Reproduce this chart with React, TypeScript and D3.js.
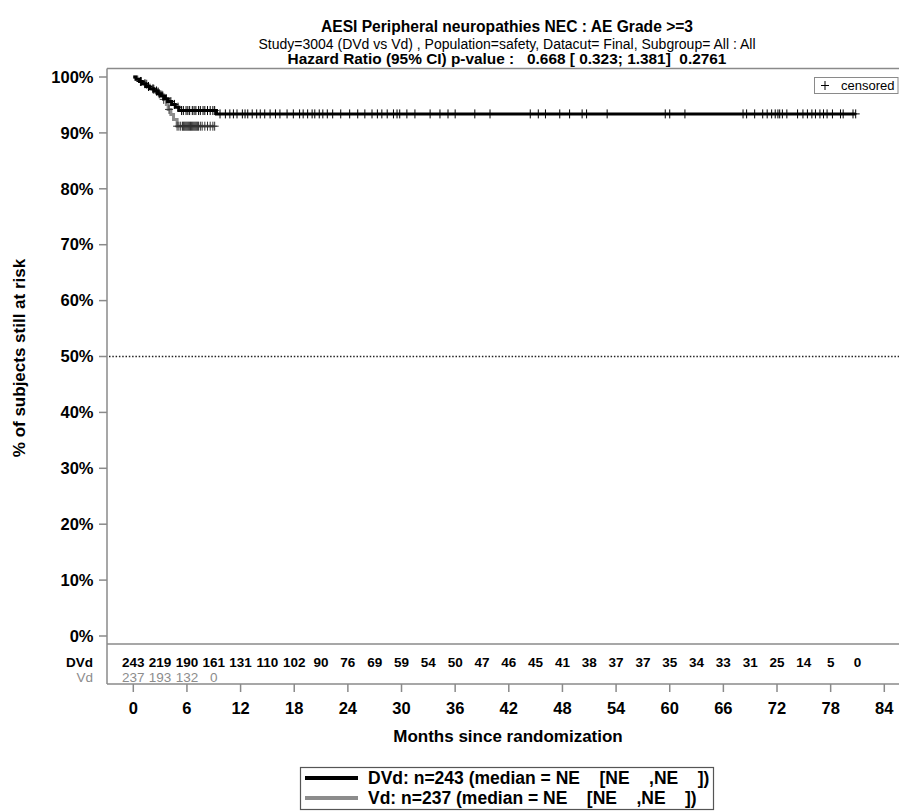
import React from "react";
import * as d3 from "d3";

const W = 899;
const H = 812;

// Axis ticks
const monthTicks = [0, 6, 12, 18, 24, 30, 36, 42, 48, 54, 60, 66, 72, 78, 84];
const pctTicks = [0, 10, 20, 30, 40, 50, 60, 70, 80, 90, 100];

// Number at risk, every 3 months
const riskTimes = [0, 3, 6, 9, 12, 15, 18, 21, 24, 27, 30, 33, 36, 39, 42, 45, 48, 51, 54, 57, 60, 63, 66, 69, 72, 75, 78, 81];
const dvdAtRisk = [243, 219, 190, 161, 131, 110, 102, 90, 76, 69, 59, 54, 50, 47, 46, 45, 41, 38, 37, 37, 35, 34, 33, 31, 25, 14, 5, 0];
const vdAtRisk = [237, 193, 132, 0];

// Kaplan-Meier steps: [month, % event-free]
const dvdSteps: [number, number][] = [
  [0, 100], [0.3, 99.6], [0.7, 99.2], [1.0, 98.8], [1.4, 98.3], [1.8, 97.9],
  [2.3, 97.5], [2.7, 97.0], [3.1, 96.6], [3.5, 96.1], [3.9, 95.6], [4.3, 95.1],
  [4.7, 94.6], [5.1, 94.0], [9.3, 93.4],
];
const dvdLastFollowUp = 80.8;

const vdSteps: [number, number][] = [
  [0, 100], [0.4, 99.6], [0.8, 99.2], [1.2, 98.7], [1.6, 98.3], [2.1, 97.8],
  [2.6, 97.3], [3.1, 96.8], [3.4, 96.0], [3.7, 95.1], [3.9, 94.2], [4.2, 93.3],
  [4.5, 92.4], [4.9, 91.2],
];
const vdLastFollowUp = 9.1;

// Censoring times (months)
const dvdCensored = [
  0.8, 1.3, 1.7, 2.2, 2.6, 2.9, 3.3, 3.7, 4.2, 4.6, 5.0, 5.4, 5.6, 5.9, 6.1, 6.3,
  6.6, 6.8, 7.0, 7.3, 7.5, 7.8, 8.0, 8.3, 8.6, 8.9, 9.1,
  9.7, 10.3, 10.8, 11.2, 11.6, 12.2, 12.5, 12.8, 13.3, 13.8, 14.2, 14.7, 15.3,
  15.9, 16.4, 17.2, 17.9, 18.6, 19.0, 19.5, 20.0, 20.3, 20.8, 21.2, 21.7, 22.3,
  23.2, 24.2, 25.1, 25.9, 26.7, 27.3, 27.8, 28.4, 29.1, 29.5, 29.8, 30.6, 31.5,
  33.2, 34.3, 35.2, 36.0, 38.2, 39.9, 44.4, 45.3, 46.1, 47.7, 48.8, 50.2, 50.7,
  53.0, 59.5, 60.0, 61.7, 68.2, 68.6, 69.5, 70.4, 70.9, 71.4, 71.8, 72.1, 72.3,
  72.6, 73.1, 74.3, 74.9, 75.4, 75.9, 76.3, 76.8, 77.2, 77.6, 78.2, 79.1, 79.4,
  80.5, 80.8,
];
const vdCensored = [
  0.9, 1.5, 2.3, 2.8, 3.4, 4.0, 4.9, 5.1, 5.3, 5.5, 5.6, 5.7, 5.8, 5.9, 6.0,
  6.1, 6.2, 6.3, 6.4, 6.5, 6.6, 6.7, 6.8, 6.9, 7.0, 7.1, 7.2, 7.3, 7.5, 7.7,
  8.0, 8.3, 8.6, 8.9, 9.1,
];

const FONT = "'Liberation Sans', Arial, Helvetica, sans-serif";
const DVD_COLOR = "#000000";
const VD_COLOR = "#8c8c8c";
const AXIS_COLOR = "#8a8a8a";

const x = d3.scaleLinear().domain([0, 84]).range([133.3, 884.3]);
const y = d3.scaleLinear().domain([0, 100]).range([636, 77]);

const AXIS_X = 107;
const PLOT_TOP = 68.5;
const RISK_TOP = 644;
const X_AXIS_Y = 684;

function survivalAt(steps: [number, number][], t: number): number {
  let s = steps[0][1];
  for (const [time, v] of steps) {
    if (time <= t) s = v;
    else break;
  }
  return s;
}

function kmPath(steps: [number, number][], end: number): string {
  const pts: [number, number][] = [...steps, [end, steps[steps.length - 1][1]]];
  const line = d3
    .line<[number, number]>()
    .x((d) => x(d[0]))
    .y((d) => y(d[1]))
    .curve(d3.curveStepAfter);
  return line(pts) || "";
}

function censorMarks(steps: [number, number][], times: number[]): string {
  return times
    .map((t) => {
      const cx = x(t);
      const cy = y(survivalAt(steps, t));
      return `M${cx - 4},${cy}h8M${cx},${cy - 4.5}v9`;
    })
    .join("");
}

const pre = { whiteSpace: "pre" as const };

export default function App() {
  return (
    <svg
      width={W}
      height={H}
      style={{ position: "absolute", left: 0, top: 0, display: "block", background: "#fff" }}
      fontFamily={FONT}
    >
      <rect x={0} y={0} width={W} height={H} fill="#fff" />

      {/* Titles */}
      <g textAnchor="middle" fill="#000">
        <text x={507} y={32} fontSize={15.6} fontWeight="bold">
          AESI Peripheral neuropathies NEC : AE Grade &gt;=3
        </text>
        <text x={507} y={48.5} fontSize={14} style={pre}>
          {"Study=3004 (DVd vs Vd) , Population=safety, Datacut= Final, Subgroup= All : All"}
        </text>
        <text x={507} y={64} fontSize={15.4} fontWeight="bold" style={pre}>
          {"Hazard Ratio (95% CI) p-value :   0.668 [ 0.323; 1.381]  0.2761"}
        </text>
      </g>

      {/* Plot frame top and y axis */}
      <line x1={AXIS_X} x2={W} y1={PLOT_TOP} y2={PLOT_TOP} stroke={AXIS_COLOR} strokeWidth={1.5} />
      <line x1={AXIS_X} x2={AXIS_X} y1={PLOT_TOP} y2={X_AXIS_Y} stroke={AXIS_COLOR} strokeWidth={1.5} />
      {pctTicks.map((p) => (
        <g key={p}>
          <line x1={AXIS_X - 8} x2={AXIS_X} y1={y(p)} y2={y(p)} stroke={AXIS_COLOR} strokeWidth={1.5} />
          <text x={93.5} y={y(p)} dy="0.35em" textAnchor="end" fontSize={16.5} fontWeight="bold">
            {p}%
          </text>
        </g>
      ))}
      <text transform={`translate(25,358) rotate(-90)`} textAnchor="middle" fontSize={17} fontWeight="bold">
        % of subjects still at risk
      </text>

      {/* 50% reference line */}
      <line
        x1={AXIS_X + 2}
        x2={W}
        y1={y(50)}
        y2={y(50)}
        stroke="#222"
        strokeWidth={1.5}
        strokeDasharray="1.5,1.8"
      />

      {/* Curves */}
      <path d={kmPath(vdSteps, vdLastFollowUp)} fill="none" stroke={VD_COLOR} strokeWidth={3} />
      <path d={censorMarks(vdSteps, vdCensored)} fill="none" stroke="#333" strokeWidth={1} />
      <path d={kmPath(dvdSteps, dvdLastFollowUp)} fill="none" stroke={DVD_COLOR} strokeWidth={3} />
      <path d={censorMarks(dvdSteps, dvdCensored)} fill="none" stroke={DVD_COLOR} strokeWidth={1} />

      {/* Censored legend */}
      <rect x={814.5} y={77.5} width={83.5} height={16} fill="#fff" stroke={AXIS_COLOR} strokeWidth={1} />
      <path d="M821,85.5h8M825,81v9" stroke="#000" strokeWidth={1} />
      <text x={841} y={85.5} dy="0.35em" fontSize={13}>
        censored
      </text>

      {/* Number at risk table */}
      <line x1={AXIS_X} x2={W} y1={RISK_TOP} y2={RISK_TOP} stroke={AXIS_COLOR} strokeWidth={1.5} />
      <text x={93} y={662} dy="0.35em" textAnchor="end" fontSize={13.5} fontWeight="bold" fill="#000">
        DVd
      </text>
      <text x={93} y={677} dy="0.35em" textAnchor="end" fontSize={13.5} fill={VD_COLOR}>
        Vd
      </text>
      {dvdAtRisk.map((n, i) => (
        <text key={`d${i}`} x={x(riskTimes[i])} y={662} dy="0.35em" textAnchor="middle" fontSize={13.5} fontWeight="bold">
          {n}
        </text>
      ))}
      {vdAtRisk.map((n, i) => (
        <text key={`v${i}`} x={x(riskTimes[i])} y={677} dy="0.35em" textAnchor="middle" fontSize={13.5} fill={VD_COLOR}>
          {n}
        </text>
      ))}

      {/* X axis */}
      <line x1={AXIS_X} x2={W} y1={X_AXIS_Y} y2={X_AXIS_Y} stroke={AXIS_COLOR} strokeWidth={1.5} />
      {monthTicks.map((m) => (
        <g key={m}>
          <line x1={x(m)} x2={x(m)} y1={X_AXIS_Y} y2={X_AXIS_Y + 8} stroke={AXIS_COLOR} strokeWidth={1.5} />
          <text x={x(m)} y={708.5} dy="0.35em" textAnchor="middle" fontSize={16.5} fontWeight="bold">
            {m}
          </text>
        </g>
      ))}
      <text x={508} y={742} textAnchor="middle" fontSize={17} fontWeight="bold">
        Months since randomization
      </text>

      {/* Treatment legend */}
      <rect x={300.5} y={767.5} width={413} height={42} fill="#fff" stroke="#555" strokeWidth={1.2} />
      <line x1={305} x2={358} y1={778} y2={778} stroke={DVD_COLOR} strokeWidth={4} />
      <line x1={305} x2={358} y1={798} y2={798} stroke={VD_COLOR} strokeWidth={4} />
      <text x={368} y={778} dy="0.35em" fontSize={17.5} fontWeight="bold" style={pre}>
        {"DVd: n=243 (median = NE    [NE    ,NE    ])"}
      </text>
      <text x={368} y={798} dy="0.35em" fontSize={17.5} fontWeight="bold" style={pre}>
        {"Vd: n=237 (median = NE    [NE    ,NE    ])"}
      </text>
    </svg>
  );
}
